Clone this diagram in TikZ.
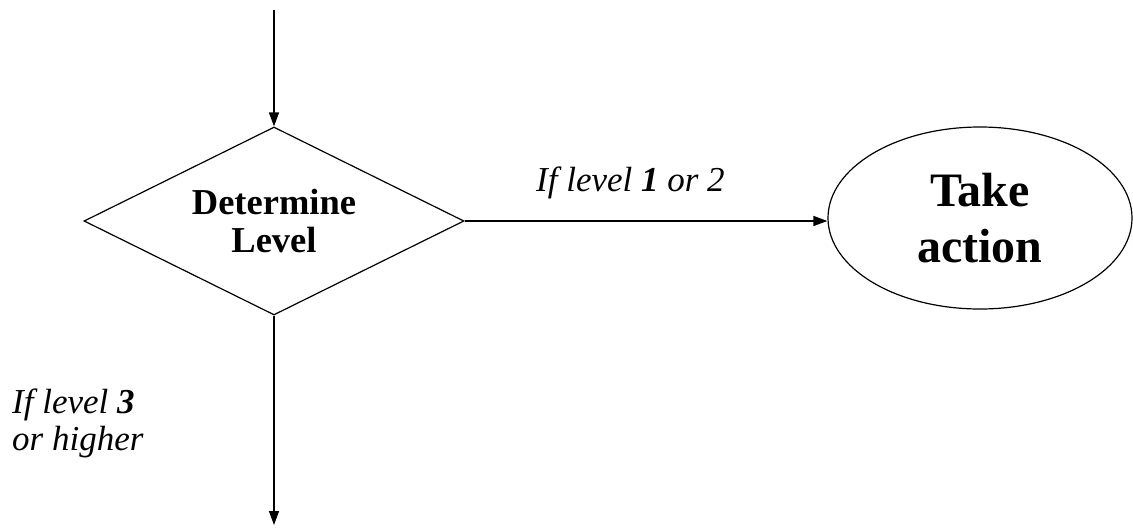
\documentclass[tikz,border=0pt]{standalone}
\usepackage{fontspec}
\setmainfont{Liberation Serif}
\usetikzlibrary{shapes.geometric,arrows.meta}
\begin{document}
\begin{tikzpicture}[x=1pt,y=-1pt,
  conn/.style={line width=1.4pt,-{Triangle[length=14pt,width=10pt]}},
  decision/.style={draw,line width=1.2pt,diamond,aspect=2,minimum width=380pt,minimum height=188pt,inner sep=0pt,align=center,font=\bfseries\fontsize{36.5}{38}\selectfont},
  terminal/.style={draw,line width=1.2pt,ellipse,minimum width=304pt,minimum height=182pt,inner sep=0pt,align=center,font=\bfseries\fontsize{48}{56}\selectfont},
  lbl/.style={font=\itshape\fontsize{35}{37}\selectfont,inner sep=0pt,align=left}
]
\useasboundingbox (0,0) rectangle (1133,528);
\node[decision] (d) at (274,221) {Determine\\Level};
\node[terminal] (t) at (980,218) {Take\\action};
\coordinate (top) at (274,10);
\coordinate (bot) at (274,525);
\draw[conn] (top) -- (d.north);
\draw[conn] (d.east) -- (d.east -| t.west);
\draw[conn] (d.south) -- (bot);
\node[lbl,anchor=west] (l1) at (536,183) {If level \textbf{1} or 2};
\node[lbl,anchor=west] (l2) at (12,423) {If level \textbf{3}\\or higher};
\end{tikzpicture}
\end{document}
